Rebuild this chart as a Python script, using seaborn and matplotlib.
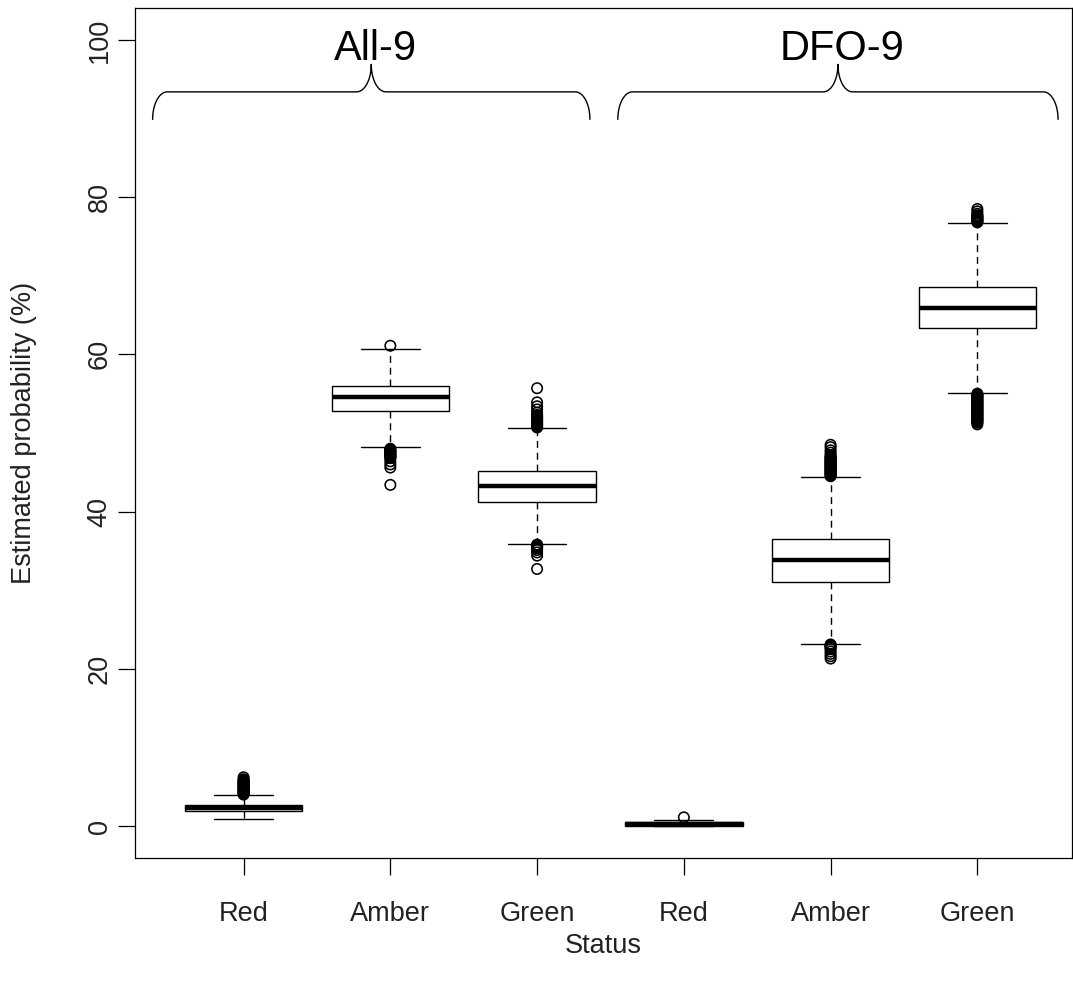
import numpy as np
import pandas as pd
import matplotlib
matplotlib.use('Agg')
import matplotlib.pyplot as plt
import seaborn as sns

# categories
status = ['Red', 'Amber', 'Green', 'Red', 'Amber', 'Green']
groups = ['All-9', 'All-9', 'All-9', 'DFO-9', 'DFO-9', 'DFO-9']

# box summaries (%)
whisk_lo = [0.9, 48.2, 35.9, 0.0, 23.2, 55.1]
q1 = [1.9, 52.8, 41.2, 0.05, 31.0, 63.4]
median = [2.3, 54.6, 43.3, 0.25, 33.8, 65.9]
q3 = [2.7, 56.0, 45.2, 0.45, 36.5, 68.6]
whisk_hi = [3.9, 60.7, 50.6, 0.8, 44.4, 76.7]

# outliers per box (dense runs listed closely)
out_all_red = [4.0, 4.1, 4.2, 4.3, 4.4, 4.5, 4.6, 4.7, 4.8, 4.9, 5.0, 5.1, 5.2, 5.3, 5.4,
               5.5, 5.6, 5.7, 5.8, 5.95, 6.2]
out_all_amber = [61.1,
                 48.0, 47.9, 47.8, 47.7, 47.6, 47.5, 47.4, 47.3, 47.2, 47.1, 47.0, 46.9,
                 46.8, 46.4, 46.0, 45.6, 43.4]
out_all_green = [50.7, 50.8, 50.9, 51.0, 51.1, 51.2, 51.3, 51.4, 51.5, 51.6, 51.7, 51.8,
                 51.9, 52.0, 52.1, 52.2, 52.3, 52.6, 53.0, 53.4, 53.9, 55.7,
                 35.8, 35.7, 35.6, 35.5, 35.4, 35.3, 35.1, 34.8, 34.4, 32.7]
out_dfo_red = [1.1]
out_dfo_amber = [44.5, 44.6, 44.7, 44.8, 44.9, 45.0, 45.1, 45.2, 45.3, 45.4, 45.5, 45.6,
                 45.7, 45.8, 45.9, 46.0, 46.1, 46.2, 46.3, 46.4, 46.5, 46.6, 46.7, 46.8,
                 46.9, 47.0, 47.2, 47.5, 47.8, 48.2, 48.5,
                 23.1, 23.0, 22.9, 22.8, 22.7, 22.5, 22.2, 21.9, 21.6, 21.3]
out_dfo_green = [76.8, 76.9, 77.0, 77.1, 77.2, 77.3, 77.4, 77.5, 77.6, 77.7, 77.9, 78.2,
                 78.5,
                 55.0, 54.9, 54.8, 54.7, 54.6, 54.5, 54.4, 54.3, 54.2, 54.1, 54.0, 53.9,
                 53.8, 53.7, 53.6, 53.5, 53.4, 53.3, 53.2, 53.1, 53.0, 52.9, 52.8, 52.7,
                 52.6, 52.5, 52.4, 52.3, 52.2, 52.1, 52.0, 51.9, 51.8, 51.7, 51.6, 51.5,
                 51.4, 51.3, 51.1]
outliers = [out_all_red, out_all_amber, out_all_green, out_dfo_red, out_dfo_amber, out_dfo_green]

keys = [f'{g} {s}' for g, s in zip(groups, status)]

box_rows = []
for i, k in enumerate(keys):
    for v in [whisk_lo[i], q1[i], median[i], q3[i], whisk_hi[i]]:
        box_rows.append((k, v))
box_df = pd.DataFrame(box_rows, columns=['grp', 'val'])

out_rows = []
for k, vals in zip(keys, outliers):
    for v in vals:
        out_rows.append((k, v))
out_df = pd.DataFrame(out_rows, columns=['grp', 'val'])

sns.set_style('ticks')
plt.rcParams['font.family'] = ['Liberation Sans', 'DejaVu Sans']

fig = plt.figure(figsize=(10.73, 9.91), dpi=100)
ax = fig.add_axes([135 / 1073, 133 / 991, 937 / 1073, 850 / 991])

sns.boxplot(data=box_df, x='grp', y='val', order=keys, whis=(0, 100), showfliers=False,
            width=0.8, color='white', linecolor='black', linewidth=1.0,
            medianprops={'linewidth': 3.2, 'solid_capstyle': 'butt'},
            whiskerprops={'linestyle': (0, (5, 3.5))},
            ax=ax)
sns.stripplot(data=out_df, x='grp', y='val', order=keys, jitter=False, marker='o', size=7.5,
              color='black', facecolor='none', edgecolor='black', linewidth=1.15, ax=ax)

ax.set_xlim(-0.74, 5.645)
ax.set_ylim(-4.07, 104.07)
ax.set_yticks([0, 20, 40, 60, 80, 100])
ax.set_xticks(range(len(keys)))
ax.set_xticklabels(status)
for sp in ax.spines.values():
    sp.set_visible(True)
    sp.set_color('black')
    sp.set_linewidth(0.9)
ax.tick_params(axis='both', direction='out', length=12, width=0.9, color='black',
               labelsize=19.5, labelcolor='#222222')
ax.tick_params(axis='x', pad=19)
ax.tick_params(axis='y', pad=4)
for lab in ax.get_yticklabels():
    lab.set_rotation(90)
    lab.set_va('center')

ax.set_xlabel('Status', fontsize=19.5, color='#222222')
ax.set_ylabel('Estimated probability (%)', fontsize=19.5, color='#222222')
ax.xaxis.set_label_coords(0.5, -0.088)
ax.yaxis.set_label_coords(-0.1045, 0.5)


def brace(x0, x1, yf, rx=0.10, ry=3.5):
    xc = (x0 + x1) / 2
    n = 30
    xs, ys = [], []
    t = np.linspace(np.pi, np.pi / 2, n)
    xs += list(x0 + rx + rx * np.cos(t)); ys += list(yf - ry + ry * np.sin(t))
    t = np.linspace(-np.pi / 2, 0, n)
    xs += list(xc - rx + rx * np.cos(t)); ys += list(yf + ry + ry * np.sin(t))
    t = np.linspace(np.pi, 3 * np.pi / 2, n)
    xs += list(xc + rx + rx * np.cos(t)); ys += list(yf + ry + ry * np.sin(t))
    t = np.linspace(np.pi / 2, 0, n)
    xs += list(x1 - rx + rx * np.cos(t)); ys += list(yf - ry + ry * np.sin(t))
    ax.plot(xs, ys, color='black', lw=1.0, clip_on=False)
    return xc


for x0, x1, name in [(-0.62, 2.36, 'All-9'), (2.55, 5.55, 'DFO-9')]:
    xc = brace(x0, x1, 93.4)
    ax.text(xc + 0.03, 97.4, name, ha='center', va='baseline', fontsize=30, color='black')

fig.savefig('out.png', dpi=100)
